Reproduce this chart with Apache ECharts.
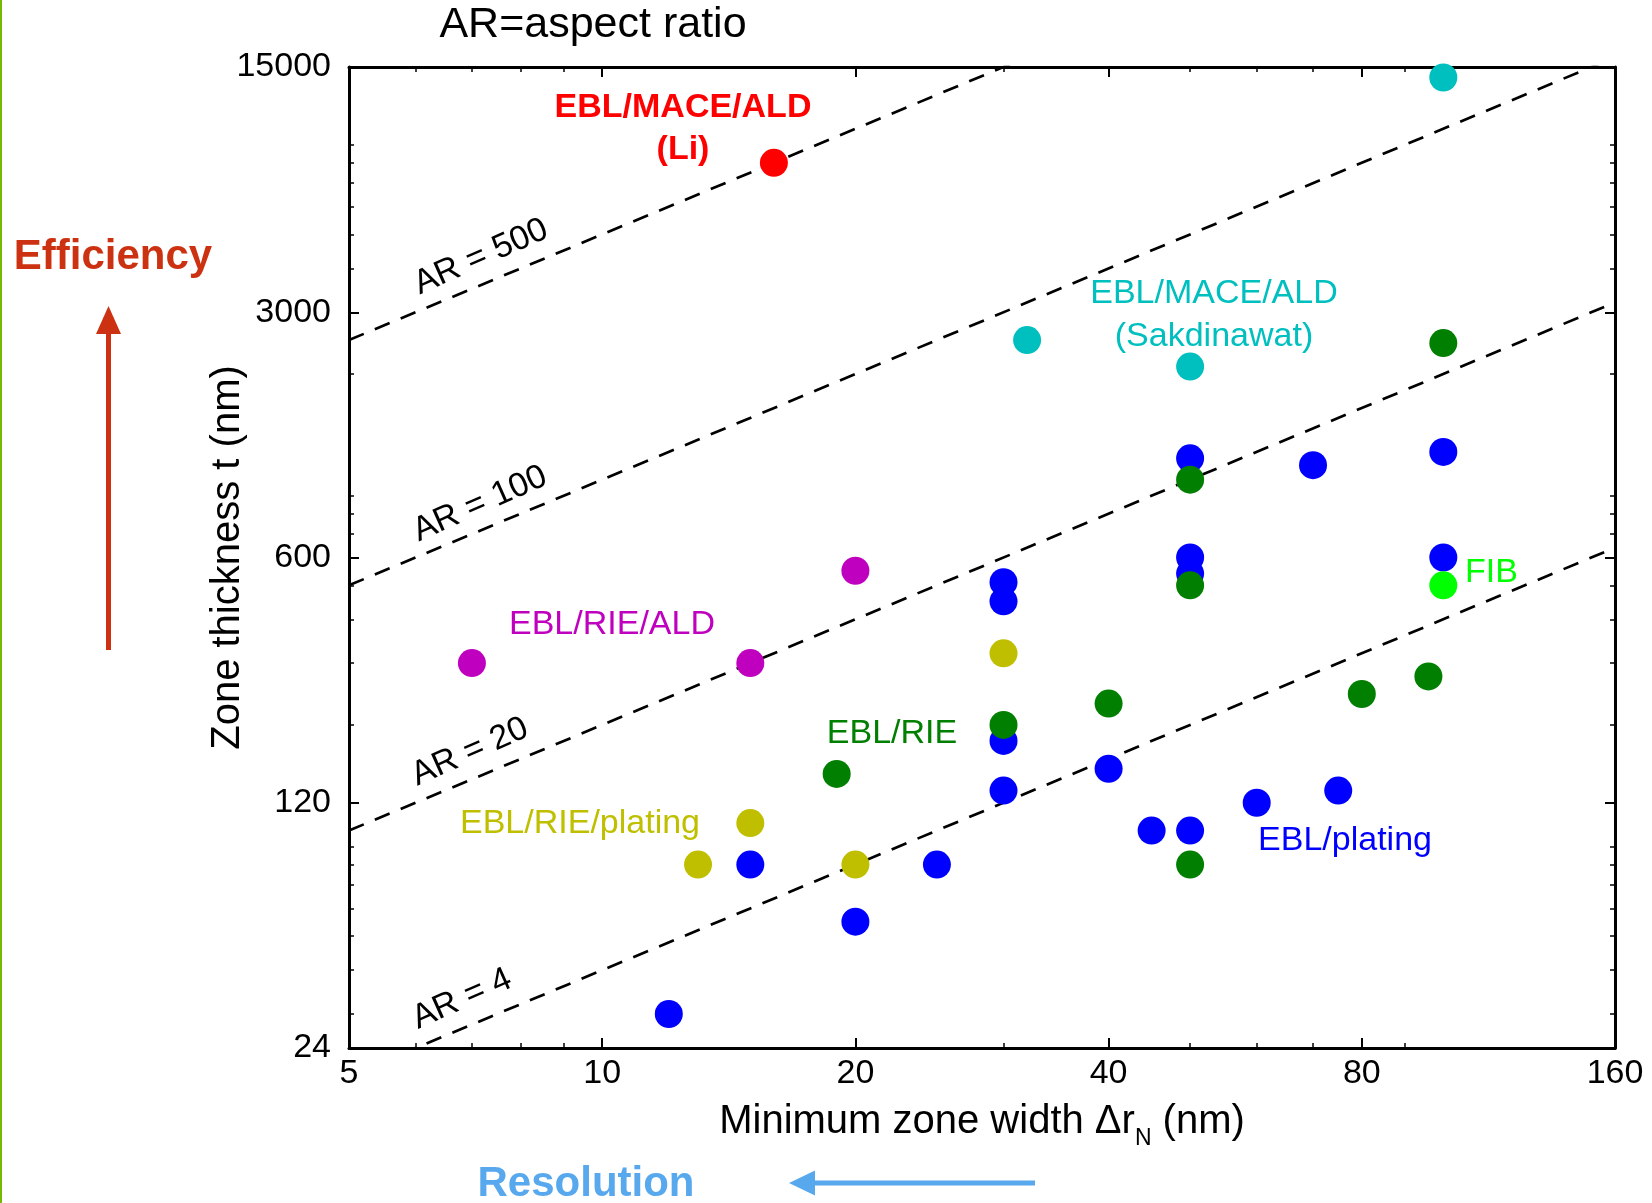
<!DOCTYPE html>
<html>
<head>
<meta charset="utf-8">
<script src="https://cdn.jsdelivr.net/npm/echarts@6/dist/echarts.min.js"></script>
<style>html,body{margin:0;padding:0;background:#fff}#chart{width:1652px;height:1203px}</style>
</head>
<body>
<div id="chart"></div>
<script>
// ---- tick values ----
const xMajorTicks = [5, 10, 20, 40, 80, 160];
const xMinorTicks = [6, 7, 8, 9, 30, 50, 60, 70, 90];
const yMajorTicks = [24, 120, 600, 3000, 15000];
const yMinorTicks = [30, 40, 50, 60, 70, 80, 90, 200, 300, 400, 500, 700, 800, 900,
                     2000, 4000, 5000, 6000, 7000, 8000, 9000];
// ---- aspect-ratio reference lines (t = AR * Δr) ----
const aspectRatios = [500, 100, 20, 4];
// ---- data: [min zone width (nm), zone thickness (nm)] ----
const eblPlating = [[12,30],[15,80],[20,55],[25,80],[30,130],[30,180],[30,450],[30,510],
                    [40,150],[45,100],[50,100],[50,540],[50,600],[50,1150],[60,120],
                    [70,1100],[75,130],[100,600],[100,1200]];
const eblRie = [[19,145],[30,200],[40,230],[50,80],[50,500],[50,1000],[80,245],[96,275],[100,2450]];
const eblRiePlating = [[13,80],[15,105],[20,80],[30,320]];
const eblRieAld = [[7,300],[15,300],[20,550]];
const maceSakdinawat = [[32,2500],[50,2100],[100,14000]];
const maceLi = [[16,8000]];
const fib = [[100,500]];

const FONT = '"Liberation Sans", Arial, Helvetica, sans-serif';
const xMin = 5, xMax = 160, yMin = 24, yMax = 15000;

function xAxisDef(position, ticks, len, tw, showLine, showLabel, extra) {
  return Object.assign({
    type: 'log', logBase: 10, min: xMin, max: xMax, position: position, gridIndex: 0,
    splitLine: {show: false},
    axisLine: {show: showLine, onZero: false, lineStyle: {color: '#000', width: 3}},
    axisTick: {show: true, inside: true, length: len, customValues: ticks,
               lineStyle: {color: '#000', width: tw}},
    axisLabel: {show: showLabel, customValues: ticks, formatter: v => String(Math.round(v)),
                color: '#000', fontSize: 34, fontFamily: FONT, margin: 9}
  }, extra || {});
}
function yAxisDef(position, ticks, len, tw, showLine, showLabel, extra) {
  return Object.assign({
    type: 'log', logBase: 10, min: yMin, max: yMax, position: position, gridIndex: 0,
    splitLine: {show: false},
    axisLine: {show: showLine, onZero: false, lineStyle: {color: '#000', width: 3}},
    axisTick: {show: true, inside: true, length: len, customValues: ticks,
               lineStyle: {color: '#000', width: tw}},
    axisLabel: {show: showLabel, customValues: ticks, formatter: v => String(Math.round(v)),
                color: '#000', fontSize: 34, fontFamily: FONT, margin: 18}
  }, extra || {});
}

const xAxes = [
  xAxisDef('bottom', xMajorTicks, 10, 2, true, true, {
    name: '{a|Minimum zone width Δr}{s|N}{a| (nm)}',
    nameLocation: 'middle', nameGap: 46, nameMoveOverlap: false,
    nameTextStyle: {
      rich: {
        a: {fontSize: 40, fontFamily: FONT, color: '#000', lineHeight: 56},
        s: {fontSize: 23, fontFamily: FONT, color: '#000', lineHeight: 23, verticalAlign: 'bottom'}
      }
    }
  }),
  xAxisDef('bottom', xMinorTicks, 5, 1.5, false, false),
  xAxisDef('top', xMajorTicks, 10, 2, true, false),
  xAxisDef('top', xMinorTicks, 5, 1.5, false, false)
];
const yAxes = [
  yAxisDef('left', yMajorTicks, 10, 2, true, true, {
    name: 'Zone thickness t (nm)', nameLocation: 'middle', nameGap: 101, nameRotate: 90,
    nameMoveOverlap: false,
    nameTextStyle: {fontSize: 40, fontFamily: FONT, color: '#000'}
  }),
  yAxisDef('left', yMinorTicks, 5, 1.5, false, false),
  yAxisDef('right', yMajorTicks, 10, 2, true, false),
  yAxisDef('right', yMinorTicks, 5, 1.5, false, false)
];

const lineSeries = aspectRatios.map(ar => ({
  type: 'line', name: 'AR ' + ar, xAxisIndex: 0, yAxisIndex: 0,
  data: [[xMin, xMin * ar], [xMax, xMax * ar]],
  showSymbol: false, symbol: 'none', silent: true, clip: true, z: 1,
  lineStyle: {color: '#000', width: 2.7, type: [16, 12]}
}));

function scatter(name, data, color) {
  return {type: 'scatter', name: name, data: data, xAxisIndex: 0, yAxisIndex: 0,
          symbol: 'circle', symbolSize: 28, itemStyle: {color: color, opacity: 1}, z: 3};
}

const C = {
  blue: '#0000ff', green: '#007f00', yellow: '#bfbf00', purple: '#bf00bf',
  cyan: '#00bfbf', red: '#ff0000', fib: '#00ff00'
};

function txt(text, x, y, color, size, weight, align, rot) {
  return {type: 'text', x: x, y: y, rotation: rot || 0, silent: true,
    style: {text: text, fill: color, fontSize: size, fontFamily: FONT, fontWeight: weight || 'normal',
            align: align || 'center', verticalAlign: 'middle'}};
}
const rot = 24 * Math.PI / 180;
const effColor = '#cc3212', resColor = '#58a8ee';

const option = {
  animation: false,
  backgroundColor: '#fff',
  grid: {left: 349, top: 67, width: 1266, height: 981, containLabel: false, outerBoundsMode: 'none'},
  xAxis: xAxes,
  yAxis: yAxes,
  series: lineSeries.concat([
    scatter('EBL/plating', eblPlating, C.blue),
    scatter('EBL/RIE', eblRie, C.green),
    scatter('EBL/RIE/plating', eblRiePlating, C.yellow),
    scatter('EBL/RIE/ALD', eblRieAld, C.purple),
    scatter('EBL/MACE/ALD (Sakdinawat)', maceSakdinawat, C.cyan),
    scatter('EBL/MACE/ALD (Li)', maceLi, C.red),
    scatter('FIB', fib, C.fib)
  ]),
  graphic: [
    {type: 'rect', shape: {x: 0, y: 0, width: 2, height: 1203}, style: {fill: '#76b900'}, silent: true},
    txt('AR=aspect ratio', 593, 25, '#000', 43),
    txt('EBL/MACE/ALD', 683, 108, C.red, 34, 'bold'),
    txt('(Li)', 683, 150, C.red, 34, 'bold'),
    txt('EBL/MACE/ALD', 1214, 294, C.cyan, 34),
    txt('(Sakdinawat)', 1214, 337, C.cyan, 34),
    txt('EBL/RIE/ALD', 612, 625, C.purple, 34),
    txt('EBL/RIE', 892, 734, C.green, 34),
    txt('EBL/RIE/plating', 580, 824, C.yellow, 34),
    txt('EBL/plating', 1345, 841, C.blue, 34),
    txt('FIB', 1465, 573, C.fib, 34, 'normal', 'left'),
    txt('AR = 500', 481, 257, '#000', 34, 'normal', 'center', rot),
    txt('AR = 100', 480, 504, '#000', 34, 'normal', 'center', rot),
    txt('AR = 20', 470, 752, '#000', 34, 'normal', 'center', rot),
    txt('AR = 4', 462, 999, '#000', 34, 'normal', 'center', rot),
    txt('Efficiency', 113, 257, effColor, 42, 'bold'),
    {type: 'line', shape: {x1: 108.5, y1: 650, x2: 108.5, y2: 330}, style: {stroke: effColor, lineWidth: 5}, silent: true},
    {type: 'polygon', shape: {points: [[108.5, 306], [96, 334], [121, 334]]}, style: {fill: effColor}, silent: true},
    txt('Resolution', 586, 1184, resColor, 42, 'bold'),
    {type: 'line', shape: {x1: 1035, y1: 1183, x2: 812, y2: 1183}, style: {stroke: resColor, lineWidth: 5}, silent: true},
    {type: 'polygon', shape: {points: [[789, 1183], [815, 1170.5], [815, 1195.5]]}, style: {fill: resColor}, silent: true}
  ]
};

const chart = echarts.init(document.getElementById('chart'), null, {renderer: 'canvas'});
chart.setOption(option);
</script>
</body>
</html>
